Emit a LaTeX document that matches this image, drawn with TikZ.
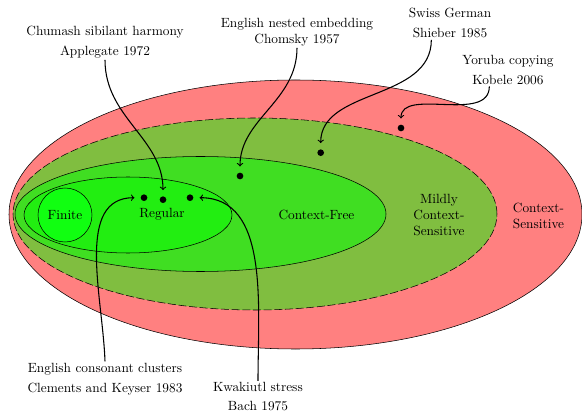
\documentclass[tikz,border=0pt]{standalone}

\definecolor{csRed}{RGB}{255,128,128}
\definecolor{mcsGreen}{RGB}{128,190,64}
\definecolor{cfGreen}{RGB}{64,222,34}
\definecolor{regGreen}{RGB}{34,238,17}
\definecolor{finGreen}{RGB}{17,255,17}

\begin{document}
\begin{tikzpicture}
[x=0.75pt,y=0.75pt,
  classDecorate/.style={draw=black},%
  dotDecorate/.style={shape=circle,fill,inner sep=0pt,minimum size=5pt},%
  labelDecorate/.style={align=center,inner sep=1pt},%
  arrowDecorate/.style={->,thick,shorten >=4.5pt}]
\useasboundingbox (0,0) rectangle (582,411);
%% language classes
\filldraw[classDecorate,fill=csRed] (295.5,196.5) ellipse [x radius=286.5,y radius=134.5];
\filldraw[classDecorate,fill=mcsGreen,dash pattern=on 6pt off 2pt] (255,197) ellipse [x radius=242,y radius=96];
\filldraw[classDecorate,fill=cfGreen] (200.5,197) ellipse [x radius=185.5,y radius=57.5];
\filldraw[classDecorate,fill=regGreen] (128,196) ellipse [x radius=104,y radius=38];
\filldraw[classDecorate,fill=finGreen] (65,196) circle [radius=27];
\node (finite) at (65,196) {Finite};
\node (regular) at (162,196.7) {Regular};
\node (contextFree) at (316.5,196) {Context-Free};
\node (mildly) at (439,196) [align=center] {Mildly\\Context-\\Sensitive};
\node (sensitive) at (538.5,195.5) [align=center] {Context-\\Sensitive};
%% example languages
\foreach \dotname/\x/\y in {
  chumashDot/163/211.3, clementsDot/144/213.3, bachDot/190/213.3,
  chomskyDot/240/235, shieberDot/320.7/258.3, kobeleDot/401/283}
{
  \node (\dotname) at (\x,\y) [dotDecorate] {};
}
\node (chumash) at (105,368.7) [labelDecorate] {Chumash sibilant harmony\\[3pt]Applegate 1972};
\node (chomsky) at (297,378.7) [labelDecorate] {English nested embedding\\Chomsky 1957};
\node (shieber) at (450,387.6) [labelDecorate] {Swiss German\\[3pt]Shieber 1985};
\node (kobele) at (508,341) [labelDecorate] {Yoruba copying\\[3pt]Kobele 2006};
\node (clements) at (105,32) [labelDecorate] {English consonant clusters\\[3pt]Clements and Keyser 1983};
\node (bach) at (258,14.5) [labelDecorate] {Kwakiutl stress\\[2pt]Bach 1975};
\coordinate (shieberStart) at ([xshift=-14pt]shieber.south);
\coordinate (kobeleStart) at ([xshift=-14pt]kobele.south);
%% arrows
\path
\foreach \startnode/\endnode/\outangle/\inangle in {
  chumash.south/chumashDot/-90/90, chomsky.south/chomskyDot/-90/90,
  shieberStart/shieberDot/-90/90, kobeleStart/kobeleDot/-90/90,
  clements.north/clementsDot/92/180, bach.north/bachDot/90/0}
{
  (\startnode) edge[arrowDecorate,out=\outangle,in=\inangle] (\endnode)
};
\end{tikzpicture}
\end{document}
